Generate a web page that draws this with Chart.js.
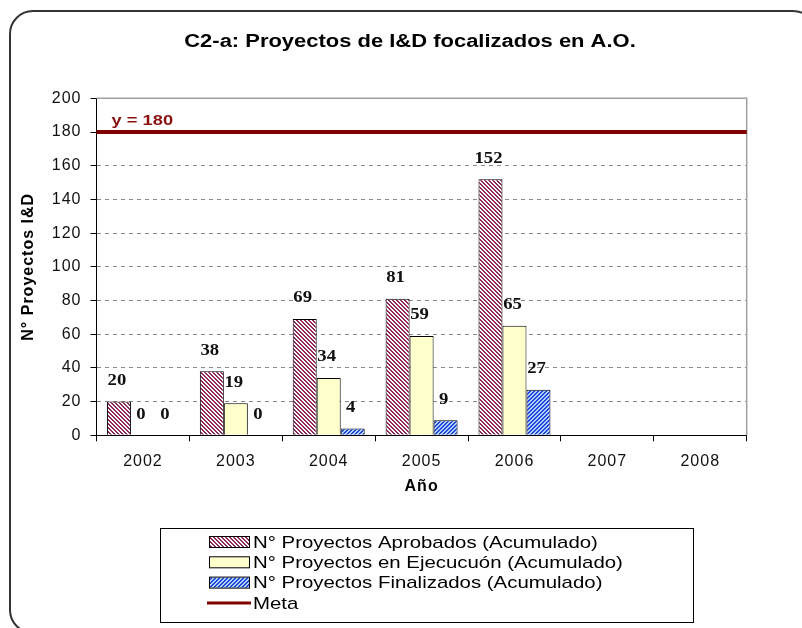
<!DOCTYPE html>
<html>
<head>
<meta charset="utf-8">
<script src="https://cdn.jsdelivr.net/npm/chart.js@4.4.1/dist/chart.umd.min.js"></script>
<style>
  html, body { margin: 0; padding: 0; background: #fff; overflow: hidden; }
  #frame { position: absolute; left: 9px; top: 10px; width: 808px; height: 624px;
           border: 2px solid #333; border-radius: 24px; box-sizing: border-box; }
  #wrap { position: absolute; left: 0; top: 0; width: 802px; height: 628px; }
</style>
</head>
<body>
<div id="frame"></div>
<div id="wrap"><canvas id="chart" width="802" height="628"></canvas></div>
<script>
const years = ['2002', '2003', '2004', '2005', '2006', '2007', '2008'];
const aprobados = [20, 38, 69, 81, 152, null, null];
const ejecucion = [0, 19, 34, 59, 65, null, null];
const finalizados = [0, 0, 4, 9, 27, null, null];
const metaValue = 180;
const seriesNames = [
  'N° Proyectos Aprobados (Acumulado)',
  'N° Proyectos en Ejecucuón (Acumulado)',
  'N° Proyectos Finalizados (Acumulado)',
  'Meta'
];
const chartTitle = 'C2-a: Proyectos de I&D focalizados en A.O.';
const yTitle = 'N° Proyectos I&D';
const xTitle = 'Año';

const SANS = '"Liberation Sans", Arial, sans-serif';
const SERIF = '"Liberation Serif", "Times New Roman", serif';
const META_COLOR = '#800000';

const canvas = document.getElementById('chart');
const ctx = canvas.getContext('2d');

// 8x8 hatch tile like the Excel pattern fills
function hatch(fg, bg, dir) {
  const c = document.createElement('canvas');
  c.width = 8; c.height = 8;
  const g = c.getContext('2d');
  g.fillStyle = bg;
  g.fillRect(0, 0, 8, 8);
  g.fillStyle = fg;
  for (let y = 0; y < 8; y++) {
    for (let x = 0; x < 8; x++) {
      const k = dir === 'down' ? (x - y + 8) % 4 : (x + y) % 4;
      if (k < 2) g.fillRect(x, y, 1, 1);
    }
  }
  return ctx.createPattern(c, 'repeat');
}

const pinkHatch = hatch('#902858', '#ffffff', 'down');
const blueHatch = hatch('#2a40d8', '#a8d8ff', 'up');
const yellow = '#ffffcc';

// the original picture is a bit wider than tall, so text is drawn stretched
function wideText(c, text, x, y, sx) {
  c.save();
  c.translate(x, y);
  c.scale(sx, 1);
  c.fillText(text, 0, 0);
  c.restore();
}

// data labels above each bar
const valueLabels = {
  id: 'valueLabels',
  afterDatasetsDraw(chart) {
    const c = chart.ctx;
    c.save();
    c.letterSpacing = '0px';
    c.font = 'bold 17px ' + SERIF;
    c.fillStyle = '#111';
    c.textAlign = 'center';
    c.textBaseline = 'middle';
    chart.data.datasets.forEach((ds, i) => {
      chart.getDatasetMeta(i).data.forEach((el, j) => {
        const v = ds.data[j];
        if (v === null || v === undefined) return;
        wideText(c, String(v), el.x - 2, el.y - 21, 1.1);
      });
    });
    c.restore();
  }
};

// frame of the plot, goal line, title and legend
const decorations = {
  id: 'decorations',
  beforeDraw(chart) {
    // a little extra spacing for the axis texts drawn by Chart.js
    chart.ctx.letterSpacing = '1px';
  },
  beforeDatasetsDraw(chart) {
    const a = chart.chartArea;
    const c = chart.ctx;
    c.save();
    c.strokeStyle = '#a0a0a0';
    c.lineWidth = 1.5;
    c.beginPath();
    c.moveTo(a.left, a.top);
    c.lineTo(a.right, a.top);
    c.lineTo(a.right, a.bottom);
    c.stroke();
    c.restore();
  },
  afterDatasetsDraw(chart) {
    const a = chart.chartArea;
    const c = chart.ctx;
    const y = chart.scales.y.getPixelForValue(metaValue);
    c.save();
    c.letterSpacing = '0px';
    c.strokeStyle = META_COLOR;
    c.lineWidth = 4;
    c.beginPath();
    c.moveTo(a.left, y);
    c.lineTo(a.right, y);
    c.stroke();
    c.fillStyle = '#8b1010';
    c.font = 'bold 15px ' + SANS;
    c.textAlign = 'left';
    c.textBaseline = 'middle';
    wideText(c, 'y = ' + metaValue, a.left + 15, y - 11, 1.22);
    c.restore();
  },
  afterDraw(chart) {
    const c = chart.ctx;
    c.save();
    c.letterSpacing = '0px';
    // title
    c.fillStyle = '#000';
    c.font = 'bold 18px ' + SANS;
    c.textAlign = 'center';
    c.textBaseline = 'middle';
    wideText(c, chartTitle, 410, 42, 1.22);

    // legend
    const box = { left: 160, top: 528, right: 693, bottom: 622 };
    c.strokeStyle = '#000';
    c.lineWidth = 1;
    c.strokeRect(box.left + 0.5, box.top + 0.5, box.right - box.left, box.bottom - box.top);
    const fills = [pinkHatch, yellow, blueHatch];
    c.font = '17px ' + SANS;
    c.textAlign = 'left';
    c.textBaseline = 'middle';
    seriesNames.forEach((name, i) => {
      const rowY = 542 + i * 20.3;
      if (i < 3) {
        c.fillStyle = fills[i];
        c.fillRect(209, rowY - 5, 40, 10);
        c.strokeStyle = '#000';
        c.lineWidth = 1;
        c.strokeRect(209.5, rowY - 5.5, 40, 11);
      } else {
        c.strokeStyle = META_COLOR;
        c.lineWidth = 3;
        c.beginPath();
        c.moveTo(207, rowY);
        c.lineTo(251, rowY);
        c.stroke();
      }
      c.fillStyle = '#000';
      wideText(c, name, 253, rowY + 1, 1.2);
    });
    c.restore();
  }
};

new Chart(ctx, {
  type: 'bar',
  data: {
    labels: years,
    datasets: [
      { label: seriesNames[0], data: aprobados, backgroundColor: pinkHatch, borderColor: '#000', borderWidth: 1 },
      { label: seriesNames[1], data: ejecucion, backgroundColor: yellow, borderColor: '#000', borderWidth: 1 },
      { label: seriesNames[2], data: finalizados, backgroundColor: blueHatch, borderColor: '#000', borderWidth: 1 }
    ]
  },
  options: {
    responsive: false,
    animation: false,
    layout: { padding: { left: 0, top: 98.3, right: 55.3, bottom: 128.7 } },
    datasets: { bar: { categoryPercentage: 0.775, barPercentage: 1 } },
    plugins: {
      legend: { display: false },
      title: { display: false },
      tooltip: { enabled: false }
    },
    scales: {
      x: {
        afterFit(scale) { scale.height = 64; },
        grid: { display: true, drawOnChartArea: false, drawTicks: true, tickLength: 6, color: '#000', offset: true },
        border: { display: true, color: '#000', width: 1 },
        ticks: { color: '#111', font: { family: SANS, size: 16 }, padding: 11 },
        title: { display: true, text: xTitle, color: '#000', font: { family: SANS, size: 16, weight: 'bold' }, padding: { top: 0, bottom: 3 } }
      },
      y: {
        min: 0,
        max: 200,
        afterFit(scale) { scale.width = 96.5; },
        ticks: { stepSize: 20, color: '#111', font: { family: SANS, size: 16 }, padding: 9 },
        grid: {
          color: (c) => (c.tick && (c.tick.value === 0 || c.tick.value === 200)) ? 'rgba(0,0,0,0)' : '#8a8a8a',
          tickColor: '#000',
          tickLength: 6,
          lineWidth: 1
        },
        border: { display: true, color: '#000', width: 1, dash: [4, 4] },
        title: { display: true, text: yTitle, color: '#000', font: { family: SANS, size: 16, weight: 'bold' }, padding: { top: 19, bottom: 0 } }
      }
    }
  },
  plugins: [decorations, valueLabels]
});
</script>
</body>
</html>
